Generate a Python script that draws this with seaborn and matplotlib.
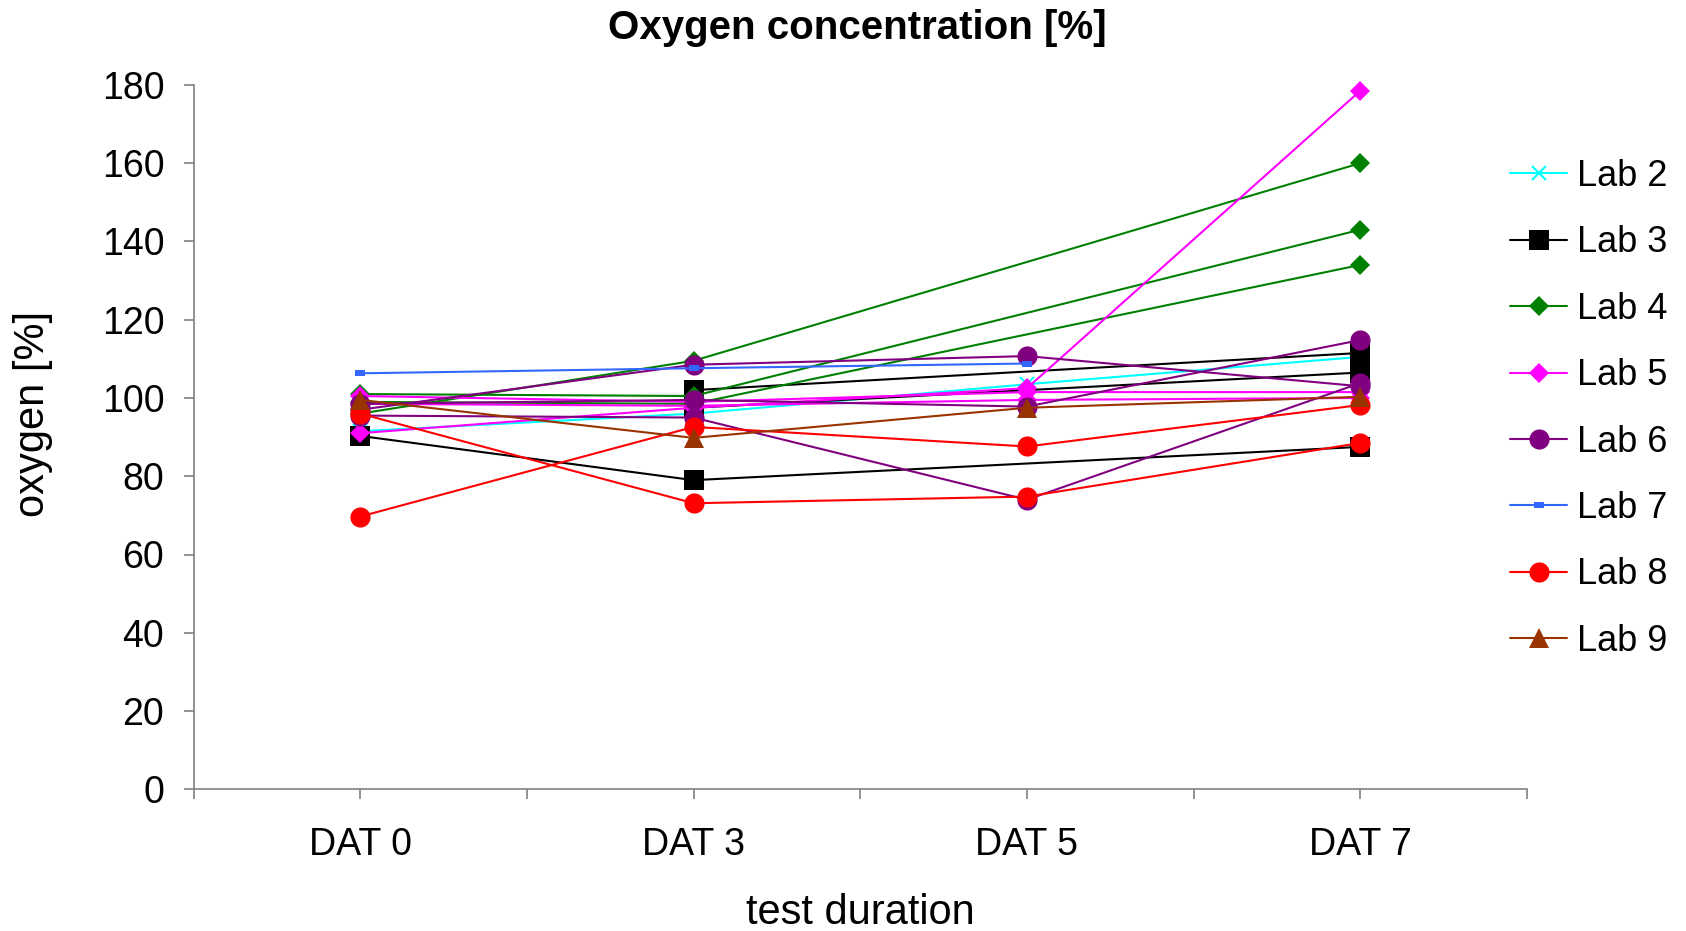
import numpy as np
import pandas as pd
import matplotlib
matplotlib.use("Agg")
import matplotlib.pyplot as plt
import seaborn as sns

nan = np.nan

# ---- data ----
days = ["DAT 0", "DAT 3", "DAT 5", "DAT 7"]
labs = ["Lab 2", "Lab 3", "Lab 4", "Lab 5", "Lab 6", "Lab 7", "Lab 8", "Lab 9"]

lab2 = [[91.5, 96.0, 103.5, 110.5]]
lab3 = [[90.3, 79.0, nan, 87.5],
        [nan, 102.0, nan, 111.5],
        [nan, 97.5, nan, 106.5]]
lab4 = [[96.0, 109.5, nan, 160.0],
        [101.0, 100.5, nan, 143.0],
        [99.0, 98.5, nan, 134.0]]
lab5 = [[91.0, 97.5, 102.5, 178.5],
        [100.5, 99.0, 101.5, 101.5],
        [98.5, 98.0, 99.5, 100.0]]
lab6 = [[97.0, 108.5, 110.7, 103.0],
        [98.5, 99.5, 97.8, 114.8],
        [95.5, 95.0, 74.0, 103.8]]
lab7 = [[106.3, 107.6, 108.8, nan]]
lab8 = [[96.0, 73.1, 74.8, 88.5],
        [69.7, 92.6, 87.6, 98.2]]
lab9 = [[99.5, 89.8, 97.5, 100.3]]

yticks = [0, 20, 40, 60, 80, 100, 120, 140, 160, 180]

# ---- styles ----
rect_marker = [(-1, -0.6), (1, -0.6), (1, 0.6), (-1, 0.6), (-1, -0.6)]
styles = {
    "Lab 2": dict(color="#00FFFF", marker="x", ms=10, mew=1.5),
    "Lab 3": dict(color="#000000", marker="s", ms=14, mew=0),
    "Lab 4": dict(color="#008000", marker="D", ms=10.5, mew=0),
    "Lab 5": dict(color="#FF00FF", marker="D", ms=10.5, mew=0),
    "Lab 6": dict(color="#800080", marker="o", ms=14.5, mew=0),
    "Lab 7": dict(color="#3366FF", marker=rect_marker, ms=6.5, mew=0),
    "Lab 8": dict(color="#FF0000", marker="o", ms=14.5, mew=0),
    "Lab 9": dict(color="#993300", marker="^", ms=14.5, mew=0),
}
lab_data = {"Lab 2": lab2, "Lab 3": lab3, "Lab 4": lab4, "Lab 5": lab5,
            "Lab 6": lab6, "Lab 7": lab7, "Lab 8": lab8, "Lab 9": lab9}

sns.set_style("white")
plt.rcParams["font.family"] = ["Liberation Sans", "DejaVu Sans"]
plt.rcParams["text.color"] = "black"

W, H = 1686, 931
fig = plt.figure(figsize=(W / 100, H / 100), dpi=100)
left, right, top, bottom = 193.5, 1527, 84.9, 789.3
ax = fig.add_axes([left / W, 1 - bottom / H, (right - left) / W, (bottom - top) / H])

handles = []
for lab in labs:
    rows = []
    for r, vals in enumerate(lab_data[lab]):
        for i, (d, v) in enumerate(zip(days, vals)):
            if not np.isnan(v):
                rows.append({"pos": i, "day": d, "value": v, "rep": r})
    df = pd.DataFrame(rows)
    st = styles[lab]
    n_before = len(ax.lines)
    sns.lineplot(data=df, x="pos", y="value", units="rep", estimator=None,
                 color=st["color"], marker=st["marker"], markersize=st["ms"],
                 markeredgecolor=st["color"], markerfacecolor=st["color"],
                 markeredgewidth=st["mew"], linewidth=1.5, ax=ax,
                 legend=False, clip_on=False)
    handles.append(ax.lines[n_before])

ax.set_xlim(-0.5, len(days) - 0.5)
ax.set_ylim(0, 180)
ax.set_yticks(yticks)
ax.set_yticklabels([str(t) for t in yticks])
ax.set_xticks(range(len(days)))
ax.set_xticklabels(days)
ax.set_xticks(np.arange(-0.5, len(days), 1.0), minor=True)
ax.set_xlabel("")
ax.set_ylabel("")

for s in ["top", "right"]:
    ax.spines[s].set_visible(False)
for s in ["left", "bottom"]:
    ax.spines[s].set_color("#808080")
    ax.spines[s].set_linewidth(1.2)
ax.tick_params(axis="both", which="both", direction="out", color="#808080",
               length=7, width=1.2, labelsize=27, labelcolor="black",
               bottom=True, left=True, top=False, right=False)
ax.tick_params(axis="x", which="major", pad=20)
ax.tick_params(axis="y", which="major", pad=14)
ax.tick_params(axis="y", which="minor", left=False)
ax.grid(False)

fig.text(857 / W, 1 - 28 / H, "Oxygen concentration [%]", ha="center", va="center",
         fontsize=29, fontweight="bold", color="black")
fig.text(33 / W, 1 - 414 / H, "oxygen [%]", ha="center", va="center",
         rotation=90, fontsize=30, color="black")
fig.text(860 / W, 1 - 913 / H, "test duration", ha="center", va="center",
         fontsize=30, color="black")

fig.legend(handles, labs, loc="upper left", bbox_to_anchor=(1510 / W, 1 - 159 / H),
           frameon=False, fontsize=26, handlelength=1.58, handletextpad=0.28,
           labelspacing=0.87, borderaxespad=0, borderpad=0, numpoints=1)

fig.savefig("out.png", dpi=100)
